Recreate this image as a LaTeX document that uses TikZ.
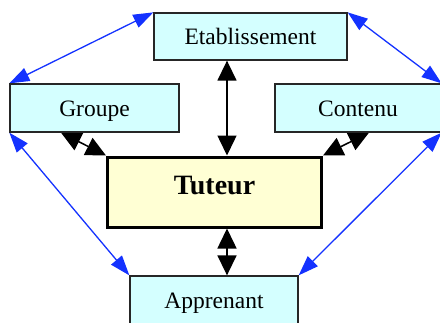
\documentclass[tikz,border=0pt]{standalone}
\usepackage{fontspec}
\setmainfont{Liberation Serif}
\usetikzlibrary{arrows.meta,backgrounds}
\definecolor{boxcyan}{RGB}{212,255,255}
\definecolor{boxyellow}{RGB}{255,255,212}
\definecolor{linkblue}{RGB}{20,50,255}
\begin{document}
\begin{tikzpicture}[x=1pt,y=-1pt,
  entity/.style={draw=black!85,line width=1.3pt,fill=boxcyan,inner sep=0pt,
    text height=16.5pt,text depth=0pt,
    font=\fontsize{23.5}{28}\selectfont},
  tutor/.style={draw=black,line width=3pt,fill=boxyellow,inner sep=0pt,
    text height=20pt,text depth=15pt,
    font=\fontsize{28}{32}\selectfont\bfseries},
  blk/.style={line width=1.5pt,black,{Triangle[length=20pt,width=19pt]}-{Triangle[length=20pt,width=19pt]}},
  blu/.style={line width=1.3pt,linkblue,{Triangle[length=20pt,width=14pt]}-{Triangle[length=20pt,width=14pt]}}]
\useasboundingbox (0,0) rectangle (440,322);
\node[entity,minimum width=193pt,minimum height=47pt] (e) at (250.5,36.5) {Etablissement};
\node[entity,minimum width=169pt,minimum height=48pt] (g) at (94.5,108) {Groupe};
\node[entity,minimum width=166pt,minimum height=48pt] (c) at (358,108) {Contenu};
\node[tutor,minimum width=214pt,minimum height=70pt] (t) at (214.5,192) {Tuteur};
\node[entity,minimum width=168pt,minimum height=48pt] (a) at (214,300) {Apprenant};
\begin{scope}[on background layer]
  \draw[blk] ([xshift=12.5pt]t.north) coordinate (tn) -- (tn |- e.south);
  \draw[blk] ([xshift=12.5pt]t.south) coordinate (ts) -- (ts |- a.north);
  \draw[blk] ([xshift=-33.5pt]g.south) -- (t.north west);
  \draw[blk] ([xshift=11pt]c.south) -- (t.north east);
  \draw[blu] (g.north west) -- (e.north west);
  \draw[blu] (e.north east) -- (c.north east);
  \draw[blu] (g.south west) -- (a.north west);
  \draw[blu] (c.south east) -- (a.north east);
\end{scope}
\end{tikzpicture}
\end{document}
